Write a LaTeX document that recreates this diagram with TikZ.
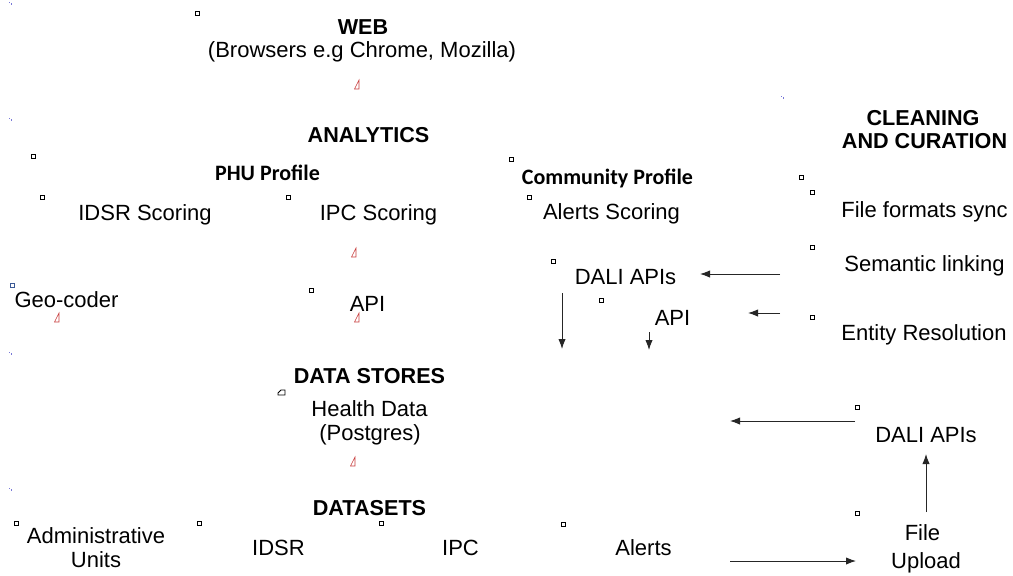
\documentclass[tikz,border=0pt]{standalone}
\usepackage{fontspec}
\setmainfont{Liberation Sans}
\newfontfamily\calibri{Carlito}
\usetikzlibrary{arrows.meta}
\definecolor{markred}{RGB}{200,60,60}
\definecolor{markblue}{RGB}{120,120,215}
\definecolor{sqblue}{RGB}{60,90,150}
\begin{document}
\begin{tikzpicture}[x=0.75pt,y=-0.75pt,
  lbl/.style={inner sep=0pt, outer sep=0pt, anchor=base, font=\fontsize{16.5}{19}\selectfont},
  hdr/.style={lbl, font=\fontsize{16.2}{19}\selectfont\bfseries},
  prof/.style={lbl, font=\fontsize{16.5}{19}\selectfont\calibri\bfseries},
  arr/.style={draw=black!85, line width=0.7pt, -{Latex[length=7.5pt,width=5.5pt]}},
  sq/.style={draw=black, line width=0.45pt},
  tri/.style={draw=markred, line width=0.4pt}]
\fill[white] (0,0) rectangle (1013,575);
\useasboundingbox (0,0) rectangle (1013,575);

% --- texts ---
\node[hdr] (web) at (363,34) {WEB};
\node[lbl] (browsers) at (362,57) {(Browsers e.g Chrome, Mozilla)};
\node[hdr] (analytics) at (368.5,142) {ANALYTICS};
\node[prof] (phu) at (267.5,180) {PHU Profile};
\node[prof] (community) at (607.5,184) {Community Profile};
\node[lbl] (idsrs) at (145,220) {IDSR Scoring};
\node[lbl] (ipcs) at (378.5,220) {IPC Scoring};
\node[lbl] (alertss) at (611.5,219) {Alerts Scoring};
\node[hdr] (clean1) at (923,125) {CLEANING};
\node[hdr] (clean2) at (924.5,148) {AND CURATION};
\node[lbl] (ffs) at (924.5,217) {File formats sync};
\node[lbl] (sem) at (924.5,271) {Semantic linking};
\node[lbl] (ent) at (924,340) {Entity Resolution};
\node[lbl] (dali1) at (625.5,284) {DALI APIs};
\node[lbl] (api2) at (672.5,325) {API};
\node[lbl] (geo) at (66.5,307) {Geo-coder};
\node[lbl] (api1) at (367.5,311) {API};
\node[hdr] (datastores) at (369.5,383) {DATA STORES};
\node[lbl] (health) at (369.5,416) {Health Data};
\node[lbl] (postgres) at (370,440) {(Postgres)};
\node[hdr] (datasets) at (369.5,515) {DATASETS};
\node[lbl] (admin1) at (96,543) {Administrative};
\node[lbl] (admin2) at (96,567) {Units};
\node[lbl] (idsr) at (278.5,555) {IDSR};
\node[lbl] (ipc) at (460.5,555) {IPC};
\node[lbl] (alerts) at (643.5,555) {Alerts};
\node[lbl] (dali2) at (926,442) {DALI APIs};
\node[lbl] (file1) at (922.5,540) {File};
\node[lbl] (file2) at (926,568) {Upload};

% --- connector end points ---
\coordinate (a1s) at (780,274); \coordinate (a1e) at (700,274);
\coordinate (a2s) at (780,313); \coordinate (a2e) at (748,313);
\coordinate (a3s) at (562,293); \coordinate (a3e) at (562,349);
\coordinate (a4s) at (649,332); \coordinate (a4e) at (649,350);
\coordinate (a5s) at (855,421); \coordinate (a5e) at (730,421);
\coordinate (a6s) at (926,512); \coordinate (a6e) at (926,454);
\coordinate (a7s) at (730,561); \coordinate (a7e) at (856,561);

\draw[arr] (a1s) -- (a1e);
\draw[arr] (a2s) -- (a2e);
\draw[arr] (a3s) -- (a3e);
\draw[arr] (a4s) -- (a4e);
\draw[arr] (a5s) -- (a5e);
\draw[arr] (a6s) -- (a6e);
\draw[arr] (a7s) -- (a7e);

% --- small placeholder squares ---
\foreach \p in {(197,13),(33,156),(42,197),(288,197),(311,290),(511,159),(529,197),
  (801,177),(812,192),(812,247),(553,261),(601,300),(812,317),(857,407),(857,513),
  (563,524),(16,523),(199,523),(381,523)}
  \draw[sq] \p ++(-2,-2) rectangle ++(4,4);
\draw[sq, draw=sqblue] (12,285) ++(-2,-2) rectangle ++(4,4);

% --- odd small polygon ---
\draw[line width=0.6pt] (278,393) -- (281,390) -- (285,390) -- (285,395) -- (278,395) -- cycle;

% --- tiny red triangles ---
\foreach \p in {(357,85),(354,253),(57,318),(357,318),(353,462)}
  \draw[tri] \p ++(-2.5,4) -- ++(4.5,-9) -- ++(0,9) -- cycle;

% --- tiny blue dots ---
\foreach \p in {(10,3),(10,119),(10,353),(10,489),(782,97)}{
  \fill[markblue] \p ++(-1.5,-1.5) rectangle ++(1.2,1.2);
  \fill[markblue] \p ++(0.5,0.3) rectangle ++(1.2,1.2);
}
\end{tikzpicture}
\end{document}
